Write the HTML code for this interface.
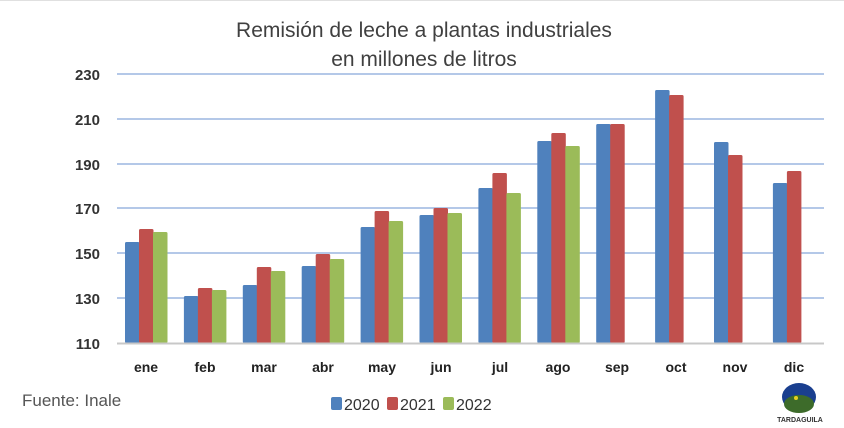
<!DOCTYPE html>
<html><head><meta charset="utf-8"><style>
html,body{margin:0;padding:0;background:#fff;}
svg{display:block;font-family:"Liberation Sans",sans-serif;}
</style></head><body>
<svg width="844" height="428" viewBox="0 0 844 428" xmlns="http://www.w3.org/2000/svg">
<rect width="844" height="428" fill="#fff"/>
<line x1="0" y1="0.5" x2="844" y2="0.5" stroke="#e0e0e0"/>
<text x="424" y="37" text-anchor="middle" font-size="21" fill="#404040">Remisión de leche a plantas industriales</text>
<text x="424" y="66" text-anchor="middle" font-size="21" fill="#404040">en millones de litros</text>
<g stroke="#b4c8e8" stroke-width="2">
<line x1="117" y1="74" x2="824" y2="74"/>
<line x1="117" y1="119" x2="824" y2="119"/>
<line x1="117" y1="164" x2="824" y2="164"/>
<line x1="117" y1="208" x2="824" y2="208"/>
<line x1="117" y1="253" x2="824" y2="253"/>
<line x1="117" y1="298" x2="824" y2="298"/>
</g>
<g font-size="15" font-weight="bold" fill="#333" text-anchor="end">
<text x="100" y="80">230</text><text x="100" y="125">210</text><text x="100" y="170">190</text>
<text x="100" y="214">170</text><text x="100" y="259">150</text><text x="100" y="304">130</text><text x="100" y="349">110</text>
</g>
<g fill="#4f81bd">
<rect x="125" y="242" width="14.5" height="101" rx="1.5"/>
<rect x="183.9" y="296" width="14.5" height="47" rx="1.5"/>
<rect x="242.8" y="285" width="14.5" height="58" rx="1.5"/>
<rect x="301.7" y="266" width="14.5" height="77" rx="1.5"/>
<rect x="360.6" y="227" width="14.5" height="116" rx="1.5"/>
<rect x="419.5" y="215" width="14.5" height="128" rx="1.5"/>
<rect x="478.4" y="188" width="14.5" height="155" rx="1.5"/>
<rect x="537.3" y="141" width="14.5" height="202" rx="1.5"/>
<rect x="596.2" y="124" width="14.5" height="219" rx="1.5"/>
<rect x="655.1" y="90" width="14.5" height="253" rx="1.5"/>
<rect x="714" y="142" width="14.5" height="201" rx="1.5"/>
<rect x="772.9" y="183" width="14.5" height="160" rx="1.5"/>
</g>
<g fill="#c0504d">
<rect x="139" y="229" width="14.5" height="114" rx="1.5"/>
<rect x="197.9" y="288" width="14.5" height="55" rx="1.5"/>
<rect x="256.8" y="267" width="14.5" height="76" rx="1.5"/>
<rect x="315.7" y="254" width="14.5" height="89" rx="1.5"/>
<rect x="374.6" y="211" width="14.5" height="132" rx="1.5"/>
<rect x="433.5" y="208" width="14.5" height="135" rx="1.5"/>
<rect x="492.4" y="173" width="14.5" height="170" rx="1.5"/>
<rect x="551.3" y="133" width="14.5" height="210" rx="1.5"/>
<rect x="610.2" y="124" width="14.5" height="219" rx="1.5"/>
<rect x="669.1" y="95" width="14.5" height="248" rx="1.5"/>
<rect x="728" y="155" width="14.5" height="188" rx="1.5"/>
<rect x="786.9" y="171" width="14.5" height="172" rx="1.5"/>
</g>
<g fill="#9bbb59">
<rect x="153" y="232" width="14.5" height="111" rx="1.5"/>
<rect x="211.9" y="290" width="14.5" height="53" rx="1.5"/>
<rect x="270.8" y="271" width="14.5" height="72" rx="1.5"/>
<rect x="329.7" y="259" width="14.5" height="84" rx="1.5"/>
<rect x="388.6" y="221" width="14.5" height="122" rx="1.5"/>
<rect x="447.5" y="213" width="14.5" height="130" rx="1.5"/>
<rect x="506.4" y="193" width="14.5" height="150" rx="1.5"/>
<rect x="565.3" y="146" width="14.5" height="197" rx="1.5"/>
</g>
<line x1="117" y1="343.5" x2="824" y2="343.5" stroke="#c8c8c8" stroke-width="2"/>
<g font-size="14" fill="#222" text-anchor="middle" font-weight="bold">
<text x="146" y="372">ene</text><text x="205" y="372">feb</text><text x="264" y="372">mar</text><text x="323" y="372">abr</text>
<text x="382" y="372">may</text><text x="441" y="372">jun</text><text x="500" y="372">jul</text><text x="558" y="372">ago</text>
<text x="617" y="372">sep</text><text x="676" y="372">oct</text><text x="735" y="372">nov</text><text x="794" y="372">dic</text>
</g>
<text x="22" y="406" font-size="17" fill="#555">Fuente: Inale</text>
<rect x="331" y="397" width="11" height="13" rx="2" fill="#4f81bd"/>
<text x="344" y="410" font-size="16" fill="#333">2020</text>
<rect x="387" y="397" width="11" height="13" rx="2" fill="#c0504d"/>
<text x="400" y="410" font-size="16" fill="#333">2021</text>
<rect x="443" y="397" width="11" height="13" rx="2" fill="#9bbb59"/>
<text x="456" y="410" font-size="16" fill="#333">2022</text>
<ellipse cx="799" cy="397" rx="17" ry="14" fill="#1a3f8f"/>
<ellipse cx="799" cy="404" rx="15" ry="9" fill="#3d6b2a"/>
<circle cx="796" cy="398" r="2" fill="#e8d020"/>
<text x="800" y="422" font-size="7" font-weight="bold" text-anchor="middle" fill="#333">TARDAGUILA</text>
</svg>
</body></html>
